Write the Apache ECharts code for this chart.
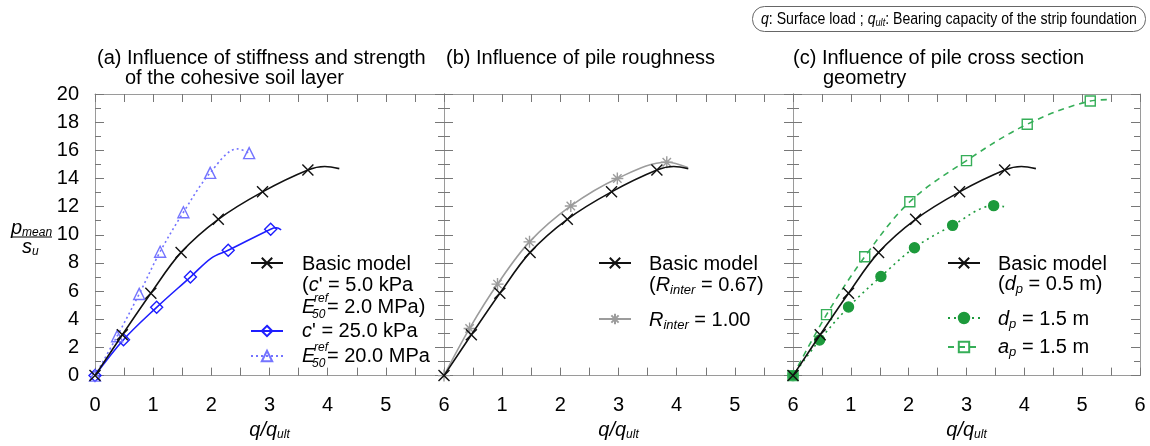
<!DOCTYPE html>
<html><head><meta charset="utf-8">
<script src="https://cdn.jsdelivr.net/npm/echarts@6/dist/echarts.min.js"></script>
<style>html,body{margin:0;padding:0;background:#fff}#c{width:1150px;height:446px}</style>
</head><body><div id="c"></div>
<script>
// ---------- data ----------
const xTickLabels = ['0','1','2','3','4','5','6'];
const yTickLabels = ['0','2','4','6','8','10','12','14','16','18','20'];

// Basic model (same curve in all three panels)
const basicQ = [0, 0.47, 0.96, 1.48, 2.12, 2.88, 3.66];
const basicP = [0, 2.9, 5.85, 8.75, 11.1, 13.05, 14.6];
const basicCurveQ = [3.95, 4.2];          // curve points without marker
const basicCurveP = [14.85, 14.7];

// (a) c' = 25.0 kPa
const c25Q = [0, 0.49, 1.06, 1.64, 2.29, 3.02];
const c25P = [0, 2.55, 4.85, 7.0, 8.9, 10.4];
const c25CurveQ = [2.0, 3.12, 3.2];
const c25CurveP = [8.35, 10.5, 10.35];

// (a) E50ref = 20.0 MPa
const e20Q = [0, 0.38, 0.76, 1.12, 1.52, 1.98, 2.65];
const e20P = [0, 2.8, 5.8, 8.8, 11.6, 14.4, 15.8];
const e20CurveQ = [2.45];
const e20CurveP = [16.1];

// (b) R_inter = 1.00
const r1Q = [0, 0.44, 0.92, 1.47, 2.18, 2.98, 3.83];
const r1P = [0, 3.35, 6.5, 9.5, 12.05, 14.0, 15.15];
const r1CurveQ = [4.19];
const r1CurveP = [14.78];

// (c) d_p = 1.5 m
const dpQ = [0, 0.46, 0.96, 1.52, 2.1, 2.76, 3.47];
const dpP = [0, 2.53, 4.87, 7.04, 9.08, 10.67, 12.07];
const dpCurveQ = [3.65];
const dpCurveP = [12.0];

// (c) a_p = 1.5 m
const apQ = [0, 0.58, 1.24, 2.02, 3.0, 4.05, 5.14];
const apP = [0, 4.33, 8.44, 12.35, 15.27, 17.85, 19.5];
const apCurveQ = [5.45];
const apCurveP = [19.6];

// ---------- chart ----------
const FF = 'Liberation Sans, Arial, sans-serif';
const FS = 20;
const chart = echarts.init(document.getElementById('c'), null, {renderer: 'canvas'});

function pts(q, p, cq, cp) {
  const items = q.map((v, i) => ({value: [v, p[i]]}));
  cq.forEach((v, i) => items.push({value: [v, cp[i]], symbol: 'none'}));
  items.sort((a, b) => a.value[0] - b.value[0]);
  return items;
}

const CROSS = 'path://M0,0L10,10M10,0L0,10';
const STAR = 'path://M0,5L10,5M5,0L5,10M1.5,1.5L8.5,8.5M8.5,1.5L1.5,8.5';

const gridLefts = [95, 444, 793];
const gridWidths = [349, 349, 347];
const grids = gridLefts.map((l, i) => ({left: l, width: gridWidths[i], top: 94, height: 285}));

const axisColor = '#9a9a9a';
const xAxes = [], yAxes = [];
const xMin = Number(xTickLabels[0]), xMax = Number(xTickLabels[xTickLabels.length - 1]);
const yMin = Number(yTickLabels[0]), yMax = Number(yTickLabels[yTickLabels.length - 1]);
const richQ = {
  i: {fontStyle: 'italic', fontSize: FS, fontFamily: FF, color: '#000'},
  s: {fontStyle: 'italic', fontSize: 12, fontFamily: FF, color: '#000', padding: [9, 0, 0, 0]}
};
for (let g = 0; g < 3; g++) {
  ['bottom', 'top'].forEach(pos => {
    xAxes.push({
      gridIndex: g, type: 'value', position: pos, min: xMin, max: xMax, interval: 1,
      axisLine: {onZero: false, lineStyle: {color: axisColor, width: 1}},
      axisTick: {inside: true, length: 8, lineStyle: {color: '#777'}},
      minorTick: {show: true, splitNumber: 2, length: 8, lineStyle: {color: '#777'}},
      splitLine: {show: false},
      axisLabel: {show: pos === 'bottom', fontSize: FS, fontFamily: FF, color: '#000', margin: 20,
                  showMinLabel: g === 0, formatter: v => xTickLabels[Math.round(v - xMin)]},
      name: pos === 'bottom' ? '{i|q/q}{s|ult}' : '',
      nameLocation: 'middle', nameGap: 42,
      nameTextStyle: {rich: richQ}
    });
  });
  ['left', 'right'].forEach(pos => {
    yAxes.push({
      gridIndex: g, type: 'value', position: pos, min: yMin, max: yMax, interval: 2,
      axisLine: {onZero: false, lineStyle: {color: axisColor, width: 1}},
      axisTick: {inside: true, length: 9, lineStyle: {color: '#777'}},
      minorTick: {show: true, splitNumber: 2, length: 6, lineStyle: {color: '#777'}},
      splitLine: {show: false},
      axisLabel: {show: pos === 'left' && g === 0, fontSize: FS, fontFamily: FF, color: '#000', margin: 16,
                  formatter: v => yTickLabels[Math.round((v - yMin) / 2)]}
    });
  });
}

function ser(name, g, data, color, lineType, symbol, size, extra) {
  return Object.assign({
    name, type: 'line', xAxisIndex: 2 * g, yAxisIndex: 2 * g, data,
    smooth: 0.35, symbol, symbolSize: size, showSymbol: true, animation: false,
    lineStyle: {color, width: 1.6, type: lineType},
    itemStyle: {color, borderColor: color, borderWidth: 1.4},
    emphasis: {disabled: true}, z: 3
  }, extra || {});
}
const hollow = c => ({itemStyle: {color: 'rgba(255,255,255,0)', borderColor: c, borderWidth: 1.4}});

const BLACK = '#111111', BLUE = '#1e1eff', LBLUE = '#7474ff', GREY = '#9c9c9c', GREEN = '#1d9a3c', LGREEN = '#36ae58';

const series = [
  ser('basicA', 0, pts(basicQ, basicP, basicCurveQ, basicCurveP), BLACK, 'solid', CROSS, 11, {z: 4}),
  ser('c25', 0, pts(c25Q, c25P, c25CurveQ, c25CurveP), BLUE, 'solid', 'diamond', 12, hollow(BLUE)),
  ser('e20', 0, pts(e20Q, e20P, e20CurveQ, e20CurveP), LBLUE, [2, 3], 'triangle', 11, hollow(LBLUE)),
  ser('basicB', 1, pts(basicQ, basicP, basicCurveQ, basicCurveP), BLACK, 'solid', CROSS, 11, {z: 4}),
  ser('r1', 1, pts(r1Q, r1P, r1CurveQ, r1CurveP), GREY, 'solid', STAR, 12),
  ser('basicC', 2, pts(basicQ, basicP, basicCurveQ, basicCurveP), BLACK, 'solid', CROSS, 11, {z: 4}),
  ser('dp', 2, pts(dpQ, dpP, dpCurveQ, dpCurveP), GREEN, [2, 4], 'circle', 10),
  ser('ap', 2, pts(apQ, apP, apCurveQ, apCurveP), LGREEN, [6, 5], 'rect', 10, hollow(LGREEN))
];

// legend icon rows: [series, left, centerY]
const legendRows = [
  ['basicA', 250, 263], ['c25', 250, 331], ['e20', 250, 356],
  ['basicB', 598, 263], ['r1', 598, 319],
  ['basicC', 947, 263], ['dp', 947, 318], ['ap', 947, 347]
];
const legends = legendRows.map(r => ({
  left: r[1], top: r[2] - 6.5, padding: 0, itemWidth: 32, itemHeight: 13,
  data: [r[0]], formatter: () => '', selectedMode: false, textStyle: {fontSize: 1}
}));

// ---------- texts ----------
const rich = {
  i: {fontStyle: 'italic', fontSize: FS, fontFamily: FF, color: '#000'},
  s: {fontStyle: 'italic', fontSize: 13, fontFamily: FF, color: '#000', padding: [10, 0, 0, 0]},
  s2: {fontStyle: 'italic', fontSize: 12, fontFamily: FF, color: '#000', padding: [10, 0, 0, 0]}
};
function T(x, y, text, o, el) {
  o = o || {};
  return Object.assign({type: 'text', x, y, silent: true, style: Object.assign({
    text, fill: '#000', fontSize: FS, fontFamily: FF, verticalAlign: 'middle', align: 'left', rich
  }, o)}, el || {});
}
function E50(x, y, rest) {
  return [
    T(x, y, '{i|E}'),
    T(x + 12, y - 8, 'ref', {fontSize: 12, fontStyle: 'italic'}),
    T(x + 10, y + 8, '50', {fontSize: 12, fontStyle: 'italic'}),
    T(x + 25, y, rest)
  ];
}
const NFS = 17;
const graphics = [
  // panel titles
  T(97, 58, '(a) Influence of stiffness and strength'),
  T(125, 78, 'of the cohesive soil layer'),
  T(446, 58, '(b) Influence of pile roughness'),
  T(793, 58, '(c) Influence of pile cross section'),
  T(823, 78, 'geometry'),
  // y axis name
  T(11, 228, '{i|p}{s2|mean}', {}),
  {type: 'line', silent: true, shape: {x1: 11, y1: 237, x2: 52, y2: 237}, style: {stroke: '#000', lineWidth: 1.2}},
  T(22, 247, '{i|s}{s2|u}', {}),
  // top note
  {type: 'rect', silent: true, shape: {x: 752.5, y: 6.5, width: 393, height: 25, r: 12},
   style: {fill: 'none', stroke: '#666', lineWidth: 1}},
  T(761, 19, '{ni|q}: Surface load ; {ni|q}{ns|ult}: Bearing capacity of the strip foundation', {
    fontSize: NFS,
    rich: {
      ni: {fontStyle: 'italic', fontSize: NFS, fontFamily: FF, color: '#000'},
      ns: {fontStyle: 'italic', fontSize: 11, fontFamily: FF, color: '#000', padding: [8, 0, 0, 0]}
    }
  }, {scaleX: 0.83}),
  // legend (a)
  T(302, 264, 'Basic model'),
  T(302, 285, "({i|c}' = 5.0 kPa"),
  ...E50(302, 307, '= 2.0 MPa)'),
  T(302, 331, "{i|c}' = 25.0 kPa"),
  ...E50(302, 356, '= 20.0 MPa'),
  // legend (b)
  T(649, 264, 'Basic model'),
  T(649, 285, '({i|R}{s|inter} = 0.67)'),
  T(649, 320, '{i|R}{s|inter} = 1.00'),
  // legend (c)
  T(998, 264, 'Basic model'),
  T(998, 284, '({i|d}{s|p} = 0.5 m)'),
  T(998, 319, '{i|d}{s|p} = 1.5 m'),
  T(998, 347, '{i|a}{s|p} = 1.5 m')
];

chart.setOption({
  animation: false,
  backgroundColor: '#fff',
  grid: grids,
  xAxis: xAxes,
  yAxis: yAxes,
  legend: legends,
  series,
  graphic: graphics
});
</script></body></html>
